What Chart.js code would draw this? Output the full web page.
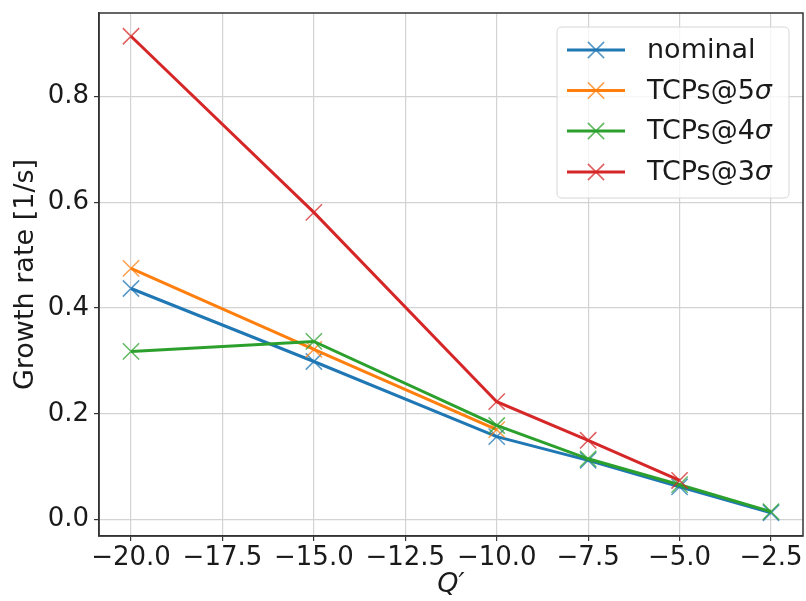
<!DOCTYPE html>
<html>
<head>
<meta charset="utf-8">
<script src="https://cdn.jsdelivr.net/npm/chart.js@4/dist/chart.umd.min.js"></script>
<style>
  html, body { margin: 0; padding: 0; background: #fff; }
  #wrap { width: 806px; height: 601px; position: relative; }
</style>
</head>
<body>
<div id="wrap"><canvas id="c" width="806" height="601"></canvas></div>
<script>
// ---- data ----
const qPrime = [-20, -15, -10, -7.5, -5, -2.5];
const nominal = [0.437, 0.299, 0.157, 0.112, 0.062, 0.013];
const tcps5 = [0.475, 0.322, 0.170];
const tcps4 = [0.318, 0.337, 0.178, 0.115, 0.066, 0.015];
const tcps3 = [0.914, 0.581, 0.223, 0.150, 0.074];
const seriesLabels = ['nominal', 'TCPs@5', 'TCPs@4', 'TCPs@3'];
const seriesSuffix = ['', 'σ', 'σ', 'σ'];
const xTicks = [-20, -17.5, -15, -12.5, -10, -7.5, -5, -2.5];
const yTicks = [0.0, 0.2, 0.4, 0.6, 0.8];

const colors = ['#1f77b4', '#ff7f0e', '#2ca02c', '#d62728'];
const markerColors = ['rgba(31,119,180,0.75)', 'rgba(255,127,14,0.75)', 'rgba(44,160,44,0.75)', 'rgba(214,39,40,0.75)'];
const FONT = 'DejaVu Sans';
const FS = 26;
const FS_BIG = 27;

function pts(ys) { return ys.map((y, i) => ({ x: qPrime[i], y: y })); }
const allSeries = [nominal, tcps5, tcps4, tcps3];

const datasets = allSeries.map((s, i) => ({
  label: seriesLabels[i] + seriesSuffix[i],
  data: pts(s),
  borderColor: colors[i],
  backgroundColor: colors[i],
  borderWidth: 3,
  pointStyle: 'crossRot',
  pointRadius: 11.5,
  pointHoverRadius: 11.5,
  pointBorderWidth: 1.5,
  pointBorderColor: markerColors[i],
  tension: 0,
  fill: false,
  order: 4 - i
}));

const frameAndLegend = {
  id: 'frameAndLegend',
  afterDraw(chart) {
    const ctx = chart.ctx;
    const a = chart.chartArea;
    ctx.save();
    // frame (all four spines)
    ctx.strokeStyle = '#333333';
    ctx.lineWidth = 1.5;
    ctx.strokeRect(a.left, a.top, a.right - a.left, a.bottom - a.top);

    // legend
    const bx = 557, by = 27, bw = 232, bh = 171, r = 5;
    ctx.beginPath();
    ctx.moveTo(bx + r, by);
    ctx.lineTo(bx + bw - r, by);
    ctx.quadraticCurveTo(bx + bw, by, bx + bw, by + r);
    ctx.lineTo(bx + bw, by + bh - r);
    ctx.quadraticCurveTo(bx + bw, by + bh, bx + bw - r, by + bh);
    ctx.lineTo(bx + r, by + bh);
    ctx.quadraticCurveTo(bx, by + bh, bx, by + bh - r);
    ctx.lineTo(bx, by + r);
    ctx.quadraticCurveTo(bx, by, bx + r, by);
    ctx.closePath();
    ctx.fillStyle = 'rgba(255,255,255,0.8)';
    ctx.fill();
    ctx.strokeStyle = '#d6d6d6';
    ctx.lineWidth = 1;
    ctx.stroke();

    const rows = [50, 90.5, 131, 172];
    chart.data.datasets.forEach((ds, i) => {
      const y = rows[i];
      ctx.strokeStyle = colors[i];
      ctx.lineWidth = 3;
      ctx.beginPath();
      ctx.moveTo(567, y);
      ctx.lineTo(625, y);
      ctx.stroke();
      // marker
      const d = 11.5 * Math.SQRT1_2;
      ctx.strokeStyle = markerColors[i];
      ctx.lineWidth = 1.5;
      ctx.beginPath();
      ctx.moveTo(596 - d, y - d); ctx.lineTo(596 + d, y + d);
      ctx.moveTo(596 - d, y + d); ctx.lineTo(596 + d, y - d);
      ctx.stroke();
      // text
      ctx.fillStyle = '#1a1a1a';
      ctx.textBaseline = 'middle';
      ctx.textAlign = 'left';
      ctx.font = FS_BIG + 'px "' + FONT + '"';
      const main = seriesLabels[i];
      ctx.fillText(main, 647, y + 1);
      const w = ctx.measureText(main).width;
      if (seriesSuffix[i]) {
        ctx.font = 'italic ' + FS_BIG + 'px "' + FONT + '"';
        ctx.fillText(seriesSuffix[i], 647 + w, y + 1);
      }
    });
    ctx.restore();
  }
};

function zeroPad(scale) {
  scale.paddingLeft = 0; scale.paddingRight = 0;
  scale.paddingTop = 0; scale.paddingBottom = 0;
}

new Chart(document.getElementById('c'), {
  type: 'line',
  data: { datasets: datasets },
  options: {
    responsive: false,
    animation: false,
    events: [],
    layout: { autoPadding: false, padding: { left: 0, right: 3, top: 13, bottom: 0 } },
    plugins: { legend: { display: false }, tooltip: { enabled: false } },
    scales: {
      x: {
        type: 'linear',
        min: -20.875,
        max: -1.625,
        afterBuildTicks(axis) { axis.ticks = xTicks.map(v => ({ value: v })); },
        afterFit(scale) { scale.height = 65; zeroPad(scale); },
        ticks: {
          autoSkip: false,
          maxRotation: 0,
          padding: 2,
          color: '#1a1a1a',
          font: { family: FONT, size: FS },
          callback: v => (v < 0 ? '\u2212' : '') + Math.abs(v).toFixed(1)
        },
        grid: { color: '#d3d3d3', lineWidth: 1.2, tickColor: '#333333', tickLength: 5, tickWidth: 1.2 },
        border: { color: '#333333', width: 1.5 },
        title: {
          display: true,
          text: 'Q\u2032',
          color: '#1a1a1a',
          font: { family: FONT, size: FS_BIG, style: 'italic' },
          padding: { top: 0, bottom: 0 }
        }
      },
      y: {
        type: 'linear',
        min: -0.031,
        max: 0.958,
        afterBuildTicks(axis) { axis.ticks = yTicks.map(v => ({ value: v })); },
        afterFit(scale) { scale.width = 99; zeroPad(scale); },
        ticks: {
          padding: 5,
          color: '#1a1a1a',
          font: { family: FONT, size: FS },
          callback: v => Number(v).toFixed(1)
        },
        grid: { color: '#d3d3d3', lineWidth: 1.2, tickColor: '#333333', tickLength: 5, tickWidth: 1.2 },
        border: { color: '#333333', width: 1.5 },
        title: {
          display: true,
          text: 'Growth rate [1/s]',
          color: '#1a1a1a',
          font: { family: FONT, size: FS_BIG },
          padding: { top: 10, bottom: 0 }
        }
      }
    }
  },
  plugins: [frameAndLegend]
});
</script>
</body>
</html>
